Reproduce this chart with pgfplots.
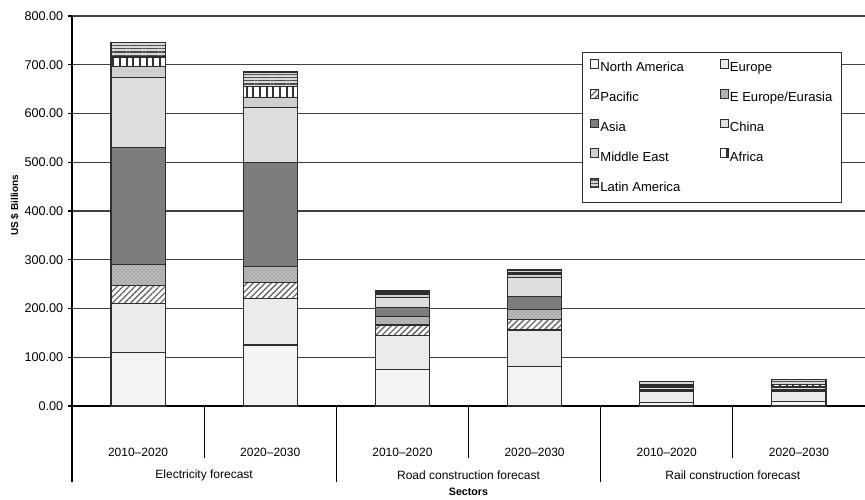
\documentclass[border=0pt]{standalone}
\usepackage{fontspec}
\setmainfont{Liberation Sans}
\usepackage{pgfplots}
\pgfplotsset{compat=1.18}
\usetikzlibrary{patterns,patterns.meta}

\definecolor{cNA}{HTML}{F4F4F4}
\definecolor{cEU}{HTML}{EBEBEB}
\definecolor{cEE}{HTML}{A8A8A8}
\definecolor{cAS}{HTML}{7D7D7D}
\definecolor{cCN}{HTML}{DEDEDE}
\definecolor{cME}{HTML}{CFCFCF}
\definecolor{cLA}{HTML}{D8D8D8}
\definecolor{edge}{HTML}{2E2E2E}

\begin{document}
\begin{tikzpicture}
\path[use as bounding box] (-54pt,-70.5pt) rectangle (594.75pt,304.5pt);
\begin{axis}[
  at={(0,0)}, anchor=south west,
  scale only axis, width=594.75pt, height=292.5pt,
  clip=false,
  ybar stacked, bar width=0.41,
  xmin=-0.5, xmax=5.5, ymin=0, ymax=800,
  axis x line*=bottom, axis y line*=left,
  axis line style={black, line width=0.8pt},
  ytick={0,100,...,800},
  ymajorgrids, major grid style={black!75, line width=0.8pt},
  y tick style={black, line width=0.8pt},
  tick align=outside, major tick length=3pt,
  scaled y ticks=false,
  yticklabel style={font=\fontsize{9.5}{11}\selectfont,
    /pgf/number format/fixed, /pgf/number format/fixed zerofill,
    /pgf/number format/precision=2, /pgf/number format/assume math mode=true},
  xtick={0,...,5},
  xticklabels={2010--2020,2020--2030,2010--2020,2020--2030,2010--2020,2020--2030},
  x tick style={draw=none},
  xticklabel style={font=\fontsize{9}{11}\selectfont, anchor=center, yshift=-32pt},
  extra x ticks={0.5,2.5,4.5},
  extra x tick labels={Electricity forecast,Road construction forecast,Rail construction forecast},
  extra x tick style={x tick style={draw=none},
    xticklabel style={yshift=-17pt}},
  xlabel={\bfseries Sectors},
  every axis x label/.style={at={(axis description cs:0.5,0)}, anchor=center,
    yshift=-64pt, font=\fontsize{8}{10}\selectfont},
  ylabel={\bfseries US \$ Billions},
  every axis y label/.style={at={(axis description cs:-0.0723,0.515)}, rotate=90,
    anchor=center, font=\fontsize{7.5}{9}\selectfont},
  every axis plot/.append style={draw=edge, line width=0.9pt},
  legend columns=2,
  legend cell align=left,
  legend image code/.code={\draw[#1, line width=0.5pt] (0pt,0pt) rectangle (6pt,6.5pt);},
  legend style={at={(0.643,0.908)}, anchor=north west, draw=edge, line width=0.8pt,
    font=\fontsize{9.8}{11}\selectfont, row sep=9.3pt,
    inner xsep=6pt, inner ysep=5pt,
    nodes={inner xsep=1pt},
    /tikz/every even column/.append style={column sep=26pt}},
]
% North America
\addplot[fill=cNA] coordinates {(0,110) (1,125) (2,75) (3,81) (4,8) (5,10)};
% Europe
\addplot[fill=cEU] coordinates {(0,100) (1,96) (2,70) (3,75) (4,22) (5,19)};
% Pacific
\addplot[fill=white, postaction={pattern={Lines[angle=45,distance=3.2pt,line width=1pt]}, pattern color=black!60}]
  coordinates {(0,37) (1,32) (2,21) (3,22) (4,1) (5,1)};
% E Europe/Eurasia
\addplot[fill=cEE, postaction={pattern=crosshatch dots, pattern color=white}]
  coordinates {(0,43) (1,33) (2,17) (3,20) (4,1) (5,2)};
% Asia
\addplot[fill=cAS] coordinates {(0,240) (1,214) (2,19) (3,26) (4,2) (5,2)};
% China
\addplot[fill=cCN] coordinates {(0,144) (1,112) (2,21) (3,40) (4,4) (5,4)};
% Middle East
\addplot[fill=cME] coordinates {(0,22) (1,21) (2,5) (3,5) (4,2) (5,2)};
% Africa
\addplot[fill=white, postaction={pattern={Lines[angle=90,distance=5pt,line width=1.6pt]}, pattern color=black!80}]
  coordinates {(0,20) (1,23) (2,4) (3,4) (4,3) (5,4)};
% Latin America
\addplot[fill=cLA, postaction={pattern={Lines[angle=0,distance=2.4pt,line width=0.8pt]}, pattern color=black!70}]
  coordinates {(0,30) (1,29) (2,4) (3,6) (4,8) (5,11)};
\legend{North America,Europe,Pacific,E Europe/Eurasia,Asia,China,Middle East,Africa,Latin America}

% separators of the two-level category axis
\pgfplotsinvokeforeach{-0.5,1.5,3.5}{
  \draw[black, line width=0.8pt] (axis cs:#1,0) -- ([yshift=-57pt]axis cs:#1,0);
}
\pgfplotsinvokeforeach{0.5,2.5,4.5}{
  \draw[black, line width=0.8pt] (axis cs:#1,0) -- ([yshift=-39pt]axis cs:#1,0);
}
\end{axis}
\end{tikzpicture}
\end{document}
